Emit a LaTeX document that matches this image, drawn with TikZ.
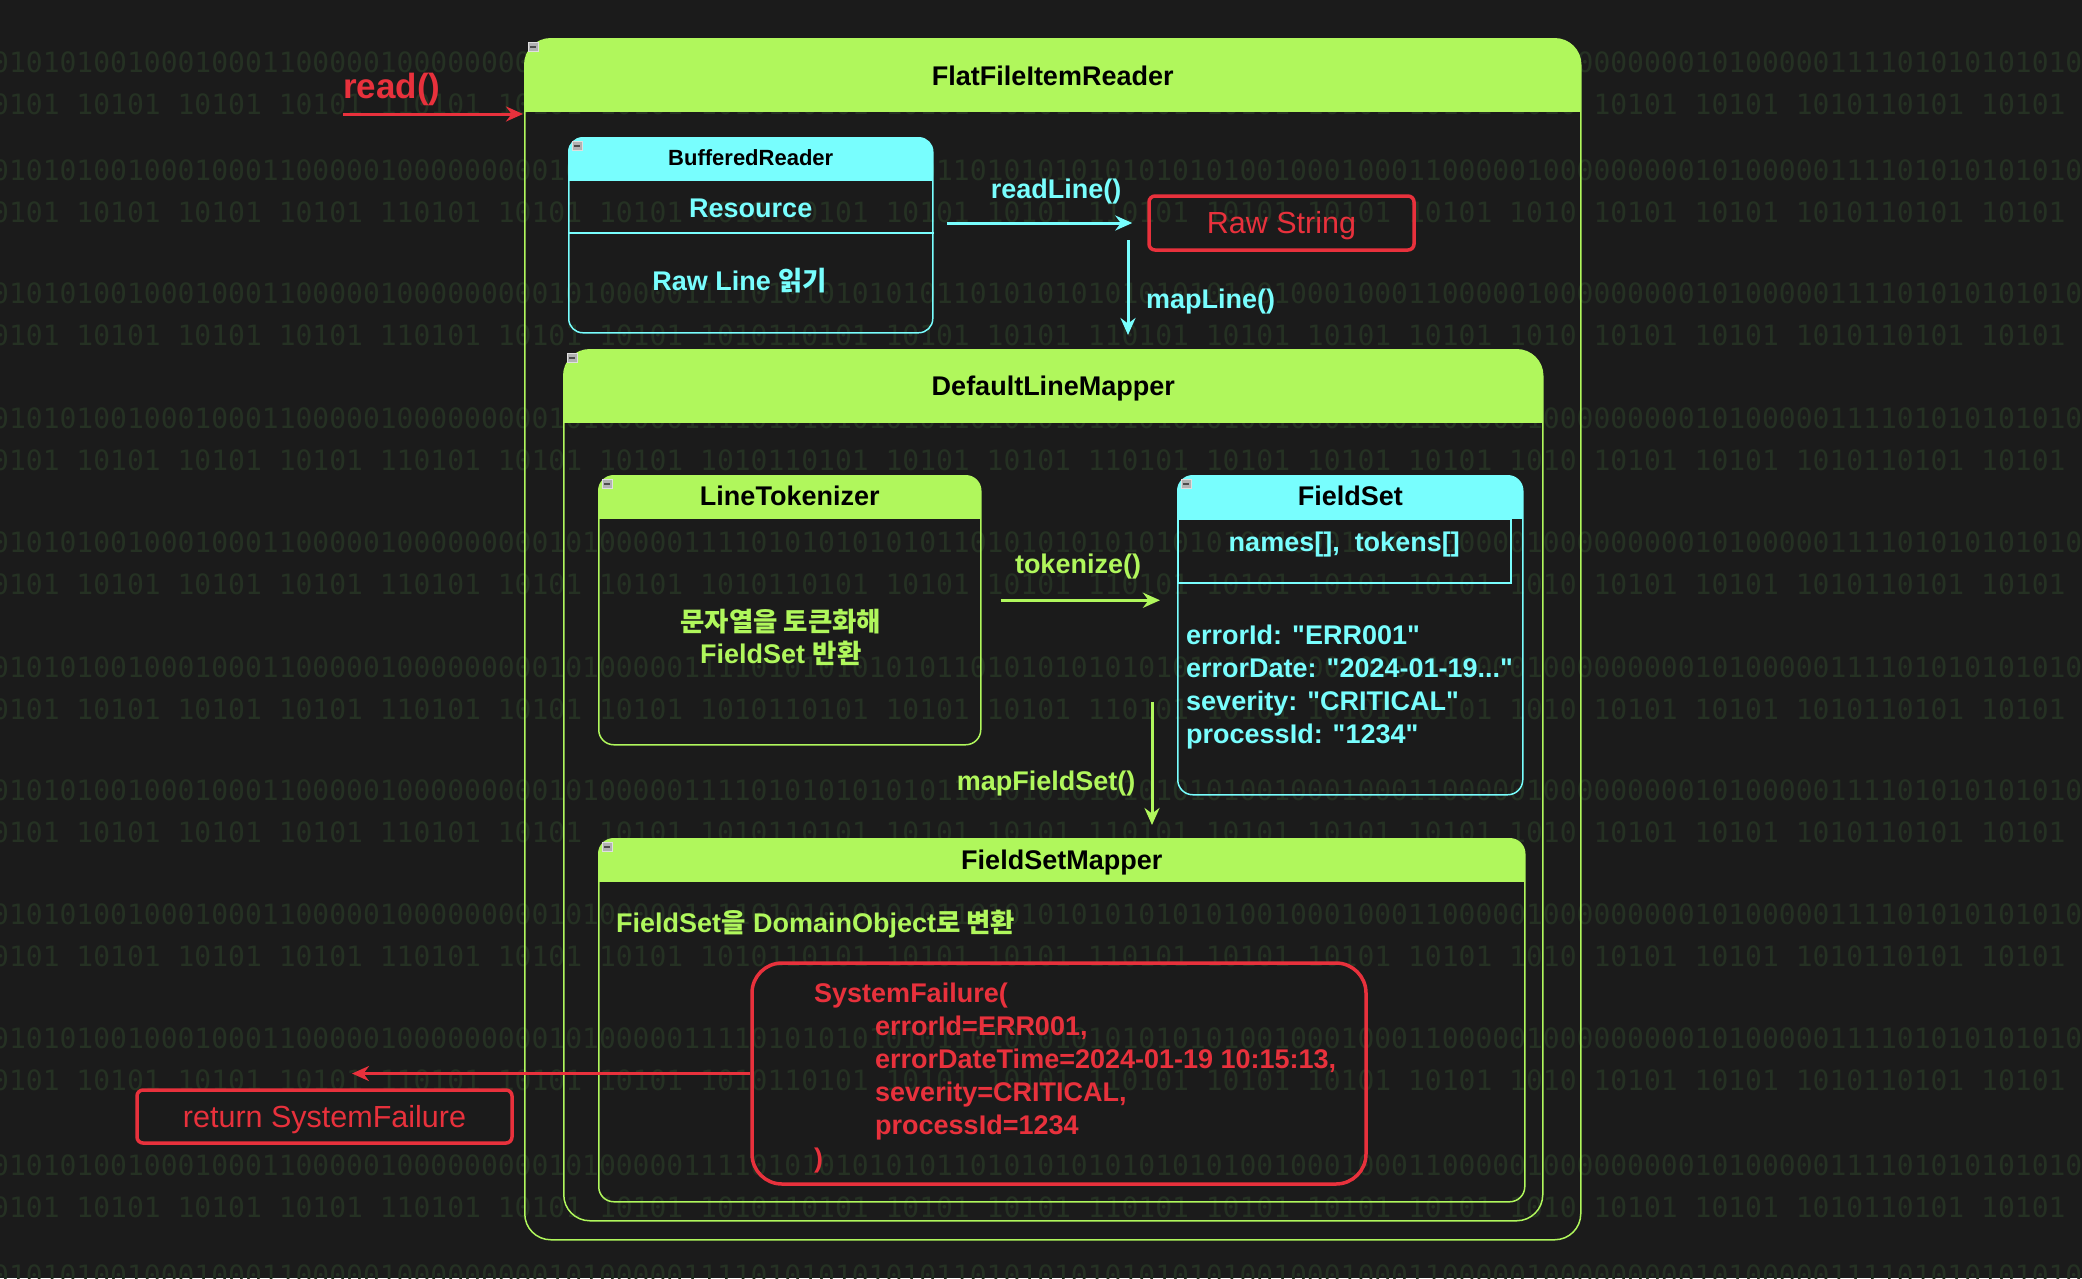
\documentclass[tikz,border=0pt]{standalone}
\usepackage{fontspec}
\setmainfont{Liberation Sans}[Ligatures=TeXOff]
\setmonofont{DejaVu Sans Mono}
\newfontfamily\kr[Scale=0.98]{Noto Sans CJK KR}
\usepackage{tikz}
\usetikzlibrary{arrows.meta}

\definecolor{bg}{HTML}{1B1B1B}
\definecolor{grn}{HTML}{B0F75C}
\definecolor{cyn}{HTML}{78FEFE}
\definecolor{rd}{HTML}{E8313C}
\definecolor{bitc}{HTML}{253123}

\begin{document}
\begin{tikzpicture}[x=1pt,y=-1pt,>={Stealth[length=17pt,width=15pt]},
  box/.style={draw=#1,line width=1.5pt,rounded corners=15pt,anchor=north west,inner sep=0pt},
  hdr/.style 2 args={path picture={\fill[#1,sharp corners] (path picture bounding box.north west) rectangle ([yshift=-#2]path picture bounding box.north east);}},
  ttl/.style={font=\bfseries\fontsize{27}{32}\selectfont,text=black,inner sep=0pt},
  txt/.style={text=#1,font=\bfseries\fontsize{27}{33}\selectfont,inner sep=0pt},
  rbox/.style={draw=rd,line width=3.5pt,rounded corners=6pt,text=rd,font=\fontsize{30.5}{36}\selectfont,inner sep=0pt},
  arr/.style={->,draw=#1,line width=3pt},
  mini/.style={rectangle,sharp corners,fill=gray!60,draw=gray!25,line width=0.6pt,minimum width=10pt,minimum height=9pt,inner sep=0pt,
    path picture={\draw[line width=2pt,black!70] ([xshift=2pt]path picture bounding box.west) -- ([xshift=-2pt]path picture bounding box.east);}},
  bits/.style={text=bitc,font=\ttfamily\fontsize{28}{28}\selectfont,inner sep=0pt,anchor=west}]

\useasboundingbox (0,0) rectangle (2082,1278);
\clip (0,0) rectangle (2082,1278);
\fill[bg] (0,0) rectangle (2082,1278);
\foreach \y [count=\i] in {62,170,293,418,542,667,790,914,1038,1165,1275} {
  \node[bits] (bitsA\i) at (-8,\y) {01010100100010001100000100000000010100000111101010101010110101010101010101001000100011000001000000000101000001111010101010101011010};
  \node[bits] (bitsB\i) at (-8,\y+42) {0101 10101 10101 10101 110101 10101 10101 1010110101 10101 10101 110101 10101 10101 10101 1010 10101 10101 1010110101 10101};
}

\node[box=grn, rounded corners=26pt, hdr={grn}{73pt}, minimum width=1056pt, minimum height=1201pt] (reader) at (524,38) {};
\node[ttl] (readerT) at ([yshift=-38pt]reader.north) {FlatFileItemReader};

\node[box=cyn, rounded corners=14pt, hdr={cyn}{43pt}, minimum width=364pt, minimum height=195pt] (buffered) at (568,137) {};
\node[ttl, font=\bfseries\fontsize{22}{26}\selectfont] (bufferedT) at ([yshift=-20.5pt]buffered.north) {BufferedReader};
\draw[cyn, line width=1.5pt] ([yshift=-96pt]buffered.north west) -- ([yshift=-96pt]buffered.north east);
\node[txt=cyn] (resource) at ([yshift=-71pt]buffered.north) {Resource};
\node[txt=cyn] (rawline) at ([xshift=-11pt,yshift=-144pt]buffered.north) {Raw Line {\kr 읽기}};

\node[rbox, minimum width=265pt, minimum height=54pt] (raw) at (1281.5,223) {\raisebox{-10pt}[0pt][0pt]{Raw String}};

\node[box=grn, rounded corners=26pt, hdr={grn}{73pt}, minimum width=979pt, minimum height=871pt] (mapper) at (563,349) {};
\node[ttl] (mapperT) at ([yshift=-40pt]mapper.north) {DefaultLineMapper};

\node[box=grn, hdr={grn}{43pt}, minimum width=382pt, minimum height=269pt] (tokenizer) at (598,475) {};
\node[ttl] (tokenizerT) at ([yshift=-21pt]tokenizer.north) {LineTokenizer};
\node[txt=grn, align=center, font=\bfseries\fontsize{27}{32}\selectfont] (tokenizerB) at ([xshift=-9pt,yshift=-162pt]tokenizer.north) {{\kr 문자열을 토큰화해}\\FieldSet {\kr 반환}};

\node[box=cyn, hdr={cyn}{43pt}, minimum width=345pt, minimum height=319pt] (fieldset) at (1177,475) {};
\node[ttl] (fieldsetT) at ([yshift=-21pt]fieldset.north) {FieldSet};
\node[draw=cyn, line width=1.5pt, minimum width=333pt, minimum height=64pt, anchor=north west, inner sep=0pt] (names) at (1177,518) {};
\node[txt=cyn] (namesT) at ([yshift=-27pt]names.north) {names[],\ \ tokens[]};
\node[txt=cyn, align=left, anchor=west] (fields) at (1186,687) {errorId: "ERR001"\\errorDate: "2024-01-19..."\\severity: "CRITICAL"\\processId: "1234"};

\node[box=grn, hdr={grn}{43pt}, minimum width=926pt, minimum height=363pt] (fsmapper) at (598,838) {};
\node[ttl] (fsmapperT) at ([yshift=-25pt]fsmapper.north) {FieldSetMapper};
\node[txt=grn, anchor=west] (fsmapperB) at (616,924) {FieldSet{\kr 을} DomainObject{\kr 로 변환}};

\node[rbox, rounded corners=30pt, minimum width=614pt, minimum height=221pt] (sysfail) at (1059,1073.5) {};
\node[txt=rd, align=left, anchor=west] (sysfailT) at (814,1078) {SystemFailure(\\\hspace*{61pt}errorId=ERR001,\\\hspace*{61pt}errorDateTime=2024-01-19 10:15:13,\\\hspace*{61pt}severity=CRITICAL,\\\hspace*{61pt}processId=1234\\)};

\node[rbox, minimum width=375pt, minimum height=53pt] (retbox) at (324.5,1116.5) {\raisebox{-10.5pt}[0pt][0pt]{return SystemFailure}};

\foreach \b in {reader,buffered,mapper,tokenizer,fieldset,fsmapper}
  \node[mini] (\b M) at ([xshift=9pt,yshift=-9pt]\b.north west) {};

\coordinate (caller) at (343,114);
\coordinate (lineout) at (1128,223);
\coordinate (fsout) at (1152,702);

\draw[arr=rd, shorten >=1pt] (caller) -- (caller -| reader.west);
\node[txt=rd, font=\bfseries\fontsize{35}{40}\selectfont, anchor=west] (readL) at (343,89) {read()};

\draw[arr=cyn, shorten <=13pt, shorten >=15pt] (buffered.east |- raw.west) -- (raw.west);
\node[txt=cyn] (readlineL) at (1056,192) {readLine()};

\draw[arr=cyn, shorten <=17pt, shorten >=14pt] (lineout) -- (lineout |- mapper.north);
\node[txt=cyn, anchor=west] (maplineL) at (1146,302) {mapLine()};

\draw[arr=grn, shorten <=19pt, shorten >=17pt] ([yshift=10pt]tokenizer.east) -- ([yshift=10pt]tokenizer.east -| fieldset.west);
\node[txt=grn] (tokenizeL) at (1078,567) {tokenize()};

\draw[arr=grn, shorten >=13pt] (fsout) -- (fsout |- fsmapper.north);
\node[txt=grn] (mapfsL) at (1046,784) {mapFieldSet()};

\draw[arr=rd, shorten >=27.5pt] (sysfail.west) -- (sysfail.west -| retbox.north);
\end{tikzpicture}
\end{document}
